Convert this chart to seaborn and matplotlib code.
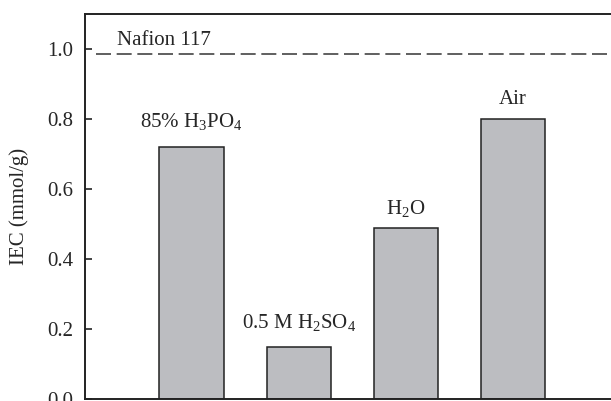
import matplotlib

matplotlib.use("Agg")
import matplotlib.pyplot as plt
import pandas as pd
import seaborn as sns

# datos
conditions = ["85% H$_3$PO$_4$", "0.5 M H$_2$SO$_4$", "H$_2$O", "Air"]
iec_values = [0.72, 0.15, 0.49, 0.80]
nafion_iec = 0.985
nafion_label = "Nafion 117"
y_ticks = [0.0, 0.2, 0.4, 0.6, 0.8, 1.0]

sns.set_theme(style="white")
plt.rcParams["font.family"] = ["Liberation Serif", "DejaVu Serif"]
plt.rcParams["mathtext.fontset"] = "custom"
plt.rcParams["mathtext.rm"] = "Liberation Serif"
plt.rcParams["mathtext.it"] = "Liberation Serif:italic"

df = pd.DataFrame({"condition": conditions, "iec": iec_values})

fig = plt.figure(figsize=(6.11, 4.01), dpi=100)
ax = fig.add_axes([84.5 / 611, 1.7 / 401, 535.5 / 611, 385.3 / 401])

sns.barplot(
    data=df,
    x="condition",
    y="iec",
    color="#bcbdc1",
    saturation=1,
    width=0.6,
    edgecolor="#222222",
    linewidth=1.1,
    ax=ax,
)

# linea de referencia Nafion 117
ax.axhline(nafion_iec, xmin=0.0224, color="#444444", lw=1.2, ls=(0, (9, 3.4)))
ax.text(0.061, 1.012, nafion_label, fontsize=15, ha="left", va="baseline",
        transform=ax.get_yaxis_transform())

# etiquetas encima de cada barra (desplazamiento en pixeles)
offsets = [15, 14, 9, 10]
for i, (lab, val) in enumerate(zip(conditions, iec_values)):
    ax.annotate(
        lab,
        xy=(i, val),
        xytext=(0, offsets[i] * 72 / 100),
        textcoords="offset points",
        ha="center",
        va="bottom",
        fontsize=15,
    )

ax.set_xlim(-1, 4)
ax.set_ylim(0, 1.1)
ax.set_yticks(y_ticks)
ax.set_yticklabels([f"{t:.1f}" for t in y_ticks])
ax.set_xticks([])
ax.set_xlabel("")
ax.set_ylabel("IEC (mmol/g)", fontsize=15)
ax.yaxis.set_label_coords(-0.104, 0.5)
ax.tick_params(axis="y", direction="in", length=5, width=1.2, color="#222222",
               pad=8, labelsize=15, left=True)
for sp in ax.spines.values():
    sp.set_color("#222222")
    sp.set_linewidth(1.4)

fig.savefig("out.png", dpi=100)
